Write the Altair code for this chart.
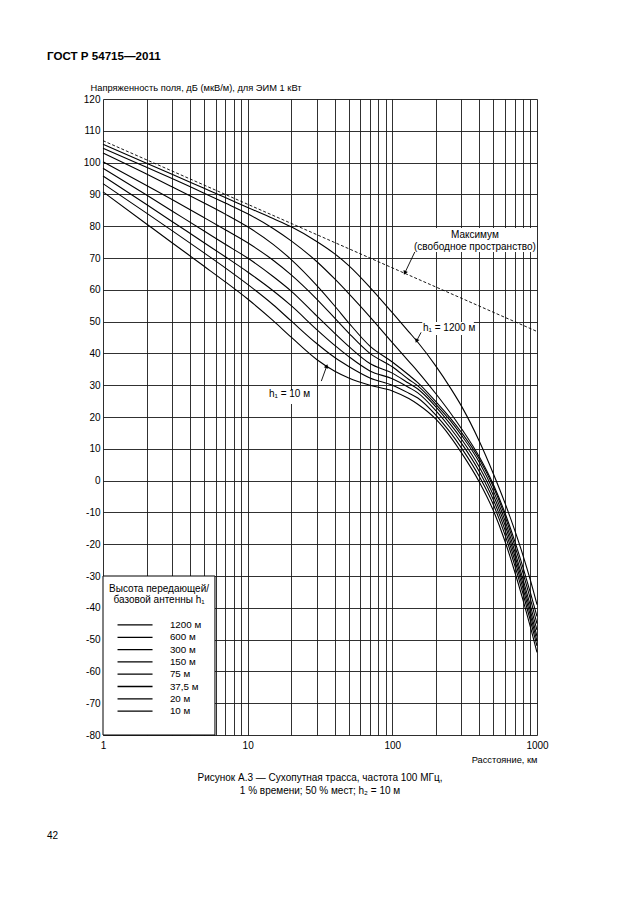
import altair as alt
import pandas as pd

# ---------------- data ----------------
distances = [1, 2, 3, 5, 7, 10, 15, 20, 30, 40, 50, 70, 100, 130, 150, 200, 250, 300, 400, 500, 600, 700, 800, 900, 1000]

h1200 = [105.8, 99.8, 96.3, 91.9, 89.0, 85.9, 82.4, 79.8, 75.2, 71.3, 67.6, 60.8, 52.8, 46.8, 43.5, 36.0, 29.4, 23.5, 12.3, 2.1, -7.0, -15.5, -23.5, -31.3, -39.0]
h600 = [104.5, 98.5, 95.0, 90.4, 87.3, 83.9, 79.3, 75.4, 68.9, 63.4, 58.8, 51.5, 43.4, 37.5, 34.3, 27.3, 21.5, 16.4, 7.4, -1.3, -10.1, -18.9, -27.3, -35.2, -42.7]
h300 = [103.0, 96.4, 92.4, 87.3, 83.8, 79.8, 74.3, 69.5, 61.4, 54.9, 49.6, 42.3, 37.3, 33.2, 30.8, 24.8, 19.8, 15.2, 6.7, -2.0, -11.1, -20.3, -29.0, -37.2, -45.0]
h150 = [100.3, 92.8, 88.4, 82.7, 78.9, 74.8, 69.3, 64.7, 57.1, 51.1, 46.4, 40.0, 35.8, 31.8, 29.8, 24.0, 19.0, 14.3, 5.7, -3.3, -12.5, -22.0, -31.0, -39.3, -47.0]
h75 = [98.2, 89.8, 84.8, 78.5, 74.3, 70.0, 64.2, 59.6, 51.8, 46.3, 42.2, 36.8, 33.8, 30.6, 28.8, 23.2, 17.9, 13.1, 4.2, -4.7, -13.9, -23.4, -32.4, -40.9, -49.0]
h37_5 = [95.8, 86.8, 81.5, 74.8, 70.4, 65.6, 59.7, 55.0, 47.5, 42.5, 39.0, 34.5, 32.0, 29.3, 27.6, 22.0, 16.7, 11.8, 2.8, -6.1, -15.4, -24.9, -33.9, -42.4, -50.5]
h20 = [93.4, 84.1, 78.6, 71.6, 66.9, 61.7, 55.3, 50.2, 43.1, 38.7, 35.9, 32.3, 30.0, 27.5, 26.0, 20.6, 15.3, 10.3, 1.2, -7.6, -17.0, -26.5, -35.5, -44.0, -52.0]
h10 = [90.8, 80.7, 74.8, 67.4, 62.5, 57.1, 50.3, 45.1, 38.1, 34.4, 32.3, 30.0, 28.2, 25.8, 24.0, 19.3, 14.0, 8.8, -0.5, -9.5, -19.0, -28.5, -37.5, -46.0, -54.0]

height_names = ["1200 м", "600 м", "300 м", "150 м", "75 м", "37,5 м", "20 м", "10 м"]
series = [h1200, h600, h300, h150, h75, h37_5, h20, h10]

free_space_dist = [1, 1000]
free_space_val = [106.9, 46.9]

x_grid_values = [1, 2, 3, 4, 5, 6, 7, 8, 9, 10, 20, 30, 40, 50, 60, 70, 80, 90,
                 100, 200, 300, 400, 500, 600, 700, 800, 900, 1000]
y_tick_values = list(range(-80, 121, 10))

header_text = "ГОСТ Р 54715—2011"
y_title = "Напряженность поля, дБ (мкВ/м), для ЭИМ 1 кВт"
x_title = "Расстояние, км"
caption_lines = ["Рисунок А.3 — Сухопутная трасса, частота 100 МГц,",
                 "1 % времени; 50 % мест; h₂ = 10 м"]
page_number = "42"
legend_title = ["Высота передающей/", "базовой антенны h₁"]

# annotations (data coordinates: distance km, field strength dB)
ann_text = ["Максимум", "(свободное пространство)", "h₁ = 1200 м", "h₁ = 10 м"]
ann_d = [372, 372, 163, 27.0]
ann_e = [77.2, 73.5, 47.9, 27.2]
ann_align = ["center", "center", "left", "right"]

arrow_from_d = [143, 158, 32.3]
arrow_from_e = [71.9, 46.6, 31.3]
arrow_to_d = [122, 147, 35.2]
arrow_to_e = [65.3, 43.9, 36.0]
arrow_angle = [205, 204, 20]

label_bg_d = [145.6, 161, 13.4]
label_bg_d2 = [952, 366, 27.4]
label_bg_e = [71.9, 45.8, 24.1]
label_bg_e2 = [79.4, 49.9, 28.5]

FONT = "Liberation Sans"

# ---------------- tables ----------------
rows = []
for name, vals in zip(height_names, series):
    for d, v in zip(distances, vals):
        rows.append({"h": name, "d": d, "e": v})
curves_df = pd.DataFrame(rows)
fs_df = pd.DataFrame({"d": free_space_dist, "e": free_space_val})

xscale = alt.Scale(type="log", domain=[1, 1000], nice=False)
yscale = alt.Scale(domain=[-80, 120], nice=False, zero=False)

x_axis = alt.Axis(
    values=x_grid_values, grid=True, ticks=False, domain=False,
    gridColor="#1a1a1a", gridWidth=0.9,
    labelExpr="(datum.value == 1 || datum.value == 10 || datum.value == 100 || datum.value == 1000) ? '' + datum.value : ''",
    labelFlush=False, labelOverlap=False, labelPadding=5,
    labelFont=FONT, labelFontSize=10, labelColor="black",
    title=x_title, titleFont=FONT, titleFontSize=9.3, titleFontWeight="normal",
    titleColor="black", titleX=434, titleY=24, titleAlign="right", titleBaseline="middle",
)
y_axis = alt.Axis(
    values=y_tick_values, grid=True, ticks=False, domain=False,
    gridColor="#1a1a1a", gridWidth=0.9,
    labelExpr="'' + datum.value", labelPadding=3,
    labelFont=FONT, labelFontSize=10, labelColor="black",
    title=y_title, titleFont=FONT, titleFontSize=9.3, titleFontWeight="normal",
    titleColor="black", titleAngle=0, titleX=-13, titleY=-12,
    titleAlign="left", titleBaseline="middle",
)

X = alt.X("d:Q", scale=xscale, axis=x_axis)
Y = alt.Y("e:Q", scale=yscale, axis=y_axis)

curves = alt.Chart(curves_df).mark_line(
    color="black", strokeWidth=1.1, interpolate="monotone"
).encode(x=X, y=Y, detail="h:N")

free_space = alt.Chart(fs_df).mark_line(
    color="black", strokeWidth=0.9, strokeDash=[3, 2]
).encode(x=X, y=Y)

bg_df = pd.DataFrame({"d": label_bg_d, "d2": label_bg_d2, "e": label_bg_e, "e2": label_bg_e2})
label_bg = alt.Chart(bg_df).mark_rect(fill="white").encode(x=X, x2="d2:Q", y=Y, y2="e2:Q")

ann_df = pd.DataFrame({"d": ann_d, "e": ann_e, "t": ann_text, "a": ann_align})
ann_layers = []
for al in ["center", "left", "right"]:
    sub = ann_df[ann_df["a"] == al]
    ann_layers.append(
        alt.Chart(sub).mark_text(align=al, baseline="middle", font=FONT, fontSize=10, color="black")
        .encode(x=X, y=Y, text="t:N")
    )

arrow_df = pd.DataFrame({"d": arrow_from_d, "e": arrow_from_e, "d2": arrow_to_d, "e2": arrow_to_e,
                         "ang": arrow_angle})
arrows = alt.Chart(arrow_df).mark_rule(color="black", strokeWidth=0.9).encode(
    x=X, y=Y, x2="d2:Q", y2="e2:Q")
heads_df = pd.DataFrame({"d": arrow_to_d, "e": arrow_to_e, "ang": arrow_angle})
heads = alt.Chart(heads_df).mark_point(
    shape="triangle-up", filled=True, color="black", size=22, opacity=1
).encode(x=X, y=Y, angle=alt.Angle("ang:Q", scale=None))

# legend box drawn through the data scales
legend_box_df = pd.DataFrame({"d": [1.0], "d2": [5.94], "e": [-80.0], "e2": [-30.0]})
legend_box = alt.Chart(legend_box_df).mark_rect(
    fill="white", stroke="black", strokeWidth=1
).encode(x=X, x2="d2:Q", y=Y, y2="e2:Q")

legend_title_df = pd.DataFrame({"d": [2.44, 2.44], "e": [-34.2, -37.6], "t": legend_title})
legend_title_mark = alt.Chart(legend_title_df).mark_text(
    align="center", baseline="middle", font=FONT, fontSize=10, color="black"
).encode(x=X, y=Y, text="t:N")

row_e = [-45.4 - 3.87 * i for i in range(len(height_names))]
legend_rows_df = pd.DataFrame({"d": [1.26] * len(height_names), "d2": [2.2] * len(height_names),
                               "e": row_e, "t": height_names, "dt": [2.9] * len(height_names)})
legend_lines = alt.Chart(legend_rows_df).mark_rule(color="black", strokeWidth=1.3).encode(
    x=X, x2="d2:Q", y=Y)
legend_labels = alt.Chart(legend_rows_df).mark_text(
    align="left", baseline="middle", font=FONT, fontSize=9.8, color="black"
).encode(x=alt.X("dt:Q", scale=xscale, axis=x_axis), y=Y, text="t:N")

# page texts (pixel offsets relative to plot origin)
header = alt.Chart(pd.DataFrame({"t": [header_text]})).mark_text(
    align="left", baseline="middle", font=FONT, fontSize=11.6, fontWeight="bold", color="black"
).encode(x=alt.value(-56), y=alt.value(-42), text="t:N")

cap_df = pd.DataFrame({"t": caption_lines, "k": [0, 1]})
caption1 = alt.Chart(cap_df[cap_df.k == 0]).mark_text(
    align="center", baseline="middle", font=FONT, fontSize=10, color="black"
).encode(x=alt.value(217), y=alt.value(679), text="t:N")
caption2 = alt.Chart(cap_df[cap_df.k == 1]).mark_text(
    align="center", baseline="middle", font=FONT, fontSize=10, color="black"
).encode(x=alt.value(217), y=alt.value(692), text="t:N")

pagenum = alt.Chart(pd.DataFrame({"t": [page_number]})).mark_text(
    align="left", baseline="middle", font=FONT, fontSize=10, color="black"
).encode(x=alt.value(-56), y=alt.value(737), text="t:N")

chart = alt.layer(
    label_bg, legend_box, free_space, curves, arrows, heads,
    *ann_layers, legend_title_mark, legend_lines, legend_labels,
    header, caption1, caption2, pagenum
).properties(
    width=434, height=636,
    autosize=alt.AutoSizeParams(type="none"),
    padding={"left": 95, "top": 91, "right": 60, "bottom": 170},
).configure_view(stroke="black", strokeWidth=1).configure(background="white")

chart.save("out.html", embed_options={"renderer": "svg", "actions": False})
